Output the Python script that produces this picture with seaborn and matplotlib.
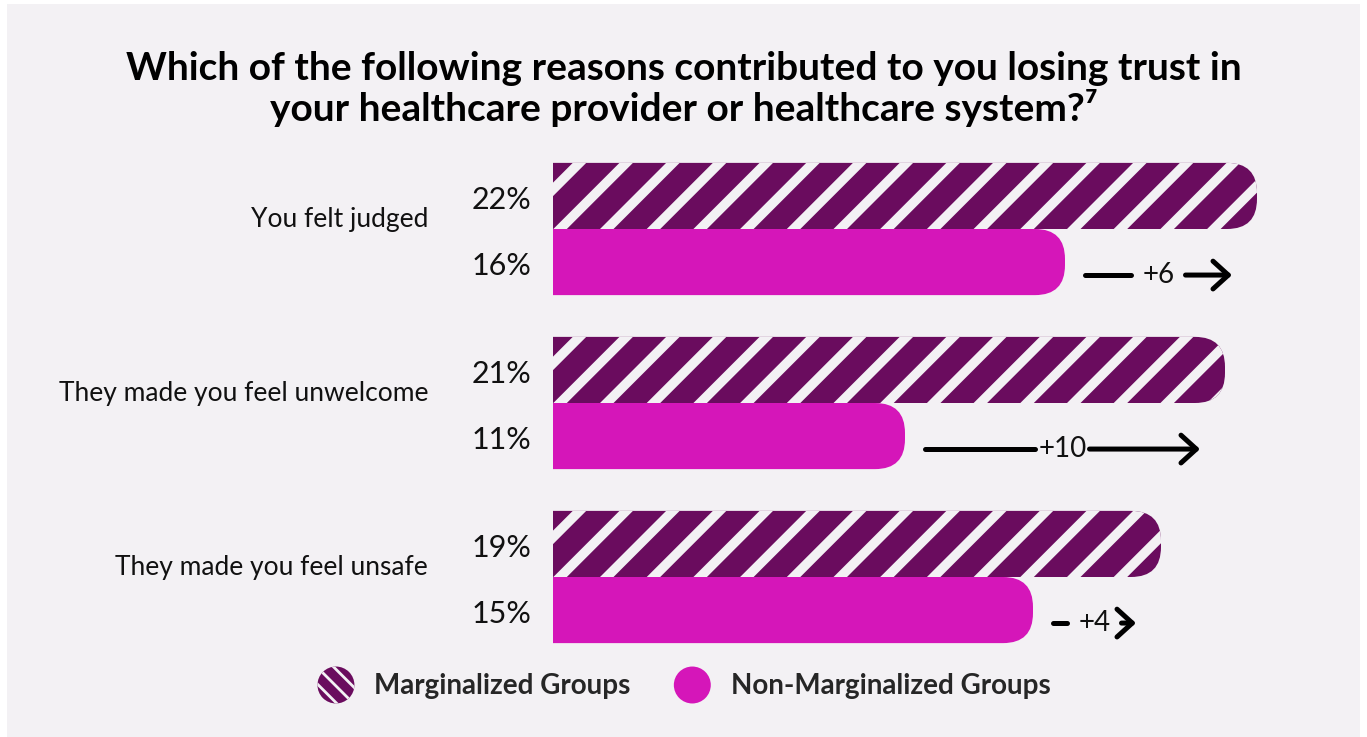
import numpy as np
import pandas as pd
import seaborn as sns
import matplotlib.pyplot as plt
from matplotlib.patches import FancyBboxPatch, Rectangle, Polygon, Circle, Patch
from matplotlib.legend_handler import HandlerPatch

# ---- data -------------------------------------------------------------
reasons = ["You felt judged", "They made you feel unwelcome", "They made you feel unsafe"]
marginalized = [22, 21, 19]
non_marginalized = [16, 11, 15]
groups = ["Marginalized Groups", "Non-Marginalized Groups"]
title = ("Which of the following reasons contributed to you losing trust in\n"
         "your healthcare provider or healthcare system?\u2077")

PURPLE = "#6A0C5E"
PINK = "#D516B9"
BG = "#F3F1F4"
INK = "#111111"

df = pd.DataFrame({
    "reason": reasons * 2,
    "value": marginalized + non_marginalized,
    "group": [groups[0]] * len(reasons) + [groups[1]] * len(reasons),
})

# ---- figure -----------------------------------------------------------
sns.set_theme(style="white")
plt.rcParams["font.family"] = ["Lato", "DejaVu Sans"]
plt.rcParams["hatch.linewidth"] = 2.0

W, H, DPI = 1367, 737, 100
fig = plt.figure(figsize=(W / DPI, H / DPI), dpi=DPI, facecolor="white")
fig.add_artist(Rectangle((7 / W, 0), (W - 14) / W, (H - 4) / H,
                         transform=fig.transFigure, facecolor=BG,
                         edgecolor="none", zorder=-10))

XMAX = 24
ax = fig.add_axes([553 / W, (H - 664) / H, XMAX * 32 / W, 522 / H])
ax.patch.set_alpha(0)

sns.barplot(data=df, y="reason", x="value", hue="group", hue_order=groups,
            palette=[PURPLE, PINK], width=0.76, orient="h", saturation=1,
            legend=False, ax=ax)
ax.set_xlim(0, XMAX)
ax.set_ylim(len(reasons) - 0.5, -0.5)
ax.set_axis_off()

# pixel scale of the data axes
p0 = ax.transData.transform((0, 0))
px_x = ax.transData.transform((1, 0))[0] - p0[0]
px_y = abs(ax.transData.transform((0, 1))[1] - p0[1])
aspect = px_x / px_y

RADIUS_PX = 30
STRIPE_PERIOD_PX = 46.7
STRIPE_WIDTH_PX = 13.5
STRIPE_PHASE_PX = 26.5

bar_geom = {}
for gi, (container, color) in enumerate(zip(ax.containers, [PURPLE, PINK])):
    for ci, rect in enumerate(container):
        x0, y0 = rect.get_xy()
        w, h = rect.get_width(), rect.get_height()
        rect.set_visible(False)
        ext = 2.0  # extend past the axis start so only the right end is rounded
        bar = FancyBboxPatch((x0 - ext, y0), w + ext, h,
                             boxstyle=f"round,pad=0,rounding_size={RADIUS_PX / px_x}",
                             mutation_aspect=aspect, facecolor=color,
                             edgecolor="none", zorder=2)
        ax.add_patch(bar)
        bar_geom[(gi, ci)] = (x0 + w, y0 + h / 2)
        if gi == 0:
            # diagonal light stripes over the marginalized bars
            hx = h * px_y / px_x
            hw = STRIPE_WIDTH_PX / 2 / px_x
            period = STRIPE_PERIOD_PX / px_x
            xb = x0 + STRIPE_PHASE_PX / px_x - hx - period * 2
            ybot, ytop = y0 + h, y0
            while xb < x0 + w + period:
                poly = Polygon([(xb - hw, ybot), (xb + hw, ybot),
                                (xb + hw + hx, ytop), (xb - hw + hx, ytop)],
                               closed=True, facecolor=BG, edgecolor="none",
                               zorder=3)
                ax.add_patch(poly)
                poly.set_clip_path(bar)
                xb += period

# ---- labels -----------------------------------------------------------
label_x = (472 - 553) / px_x
for ci, reason in enumerate(reasons):
    ax.text((428 - 553) / px_x, ci - 10 / px_y, reason, ha="right",
            va="center", fontsize=19, color=INK)
    for gi, vals in enumerate([marginalized, non_marginalized]):
        end, yc = bar_geom[(gi, ci)]
        ax.text(label_x, yc + 4 / px_y, f"{vals[ci]}%", ha="left",
                va="center", fontsize=22, color=INK)

    # difference arrow
    m_end, _ = bar_geom[(0, ci)]
    n_end, n_y = bar_geom[(1, ci)]
    y = n_y + 13 / px_y
    xs = n_end + 20 / px_x
    xe = m_end - 25 / px_x
    mid = (xs + xe) / 2
    gap = 27 / px_x
    ax.plot([xs, mid - gap], [y, y], color="black", lw=3.6,
            solid_capstyle="round", zorder=4)
    ax.annotate("", xy=(xe, y), xytext=(mid + gap, y),
                arrowprops=dict(arrowstyle="->,head_length=0.55,head_width=0.5",
                                mutation_scale=20, lw=3.6, color="black",
                                capstyle="round", joinstyle="round",
                                shrinkA=0, shrinkB=0), zorder=4)
    ax.text(mid, y, f"+{marginalized[ci] - non_marginalized[ci]}",
            ha="center", va="center", fontsize=20, color=INK)

# ---- title ------------------------------------------------------------
fig.text(684 / W, 1 - 89 / H, title, ha="center", va="center",
         fontsize=28, fontweight="bold", linespacing=1.1, color="black")

# ---- legend -----------------------------------------------------------
def circle_patch(legend, orig_handle, xdescent, ydescent, width, height, fontsize):
    r = min(width, height) / 2
    return Circle((width / 2 - xdescent, height / 2 - ydescent), r)

handles = [Patch(facecolor=PURPLE, edgecolor=BG, hatch="\\\\", linewidth=0),
           Patch(facecolor=PINK, edgecolor="none", linewidth=0)]
fig.legend(handles, groups, loc="center", bbox_to_anchor=(684 / W, 1 - 685 / H),
           ncol=2, frameon=False, prop=dict(size=20, weight="bold"),
           handlelength=1.33, handleheight=1.72, handletextpad=0.72,
           columnspacing=1.55,
           handler_map={Patch: HandlerPatch(patch_func=circle_patch)})

fig.savefig("out.png", dpi=DPI, facecolor="white")
